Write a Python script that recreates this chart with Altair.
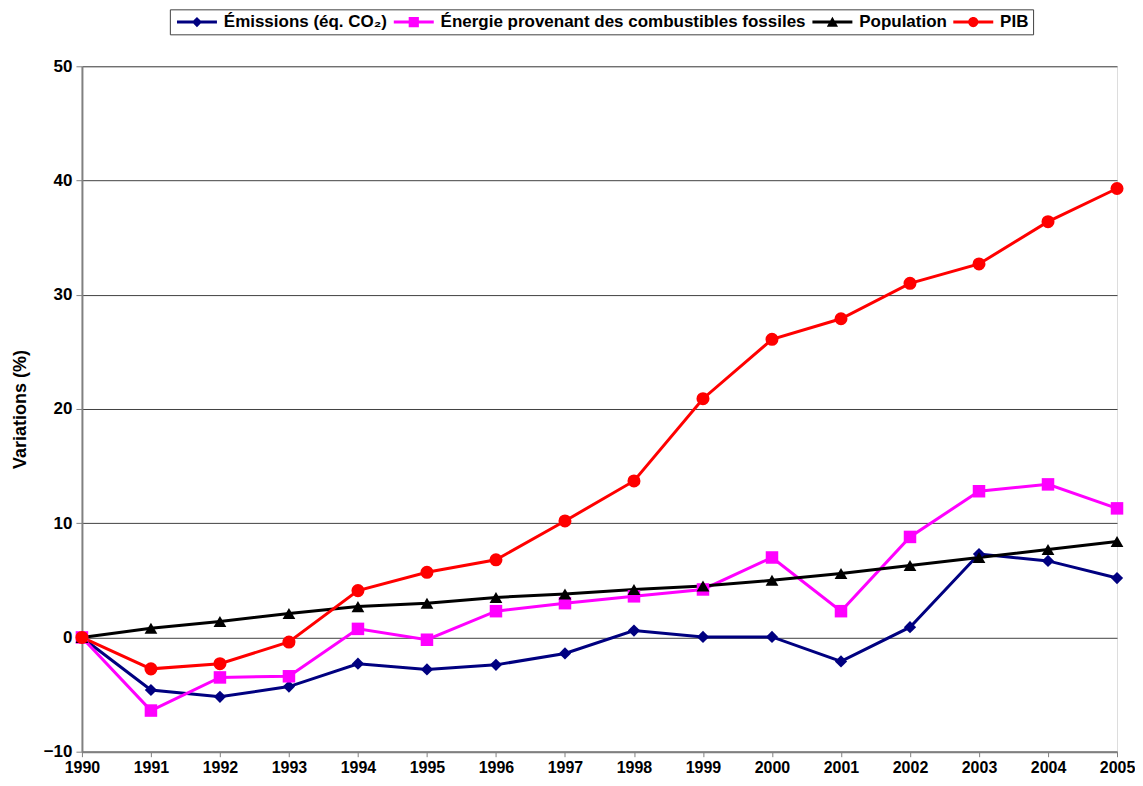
import altair as alt
import pandas as pd

years = list(range(1990, 2006))
series_names = ["Émissions (éq. CO₂)", "Énergie provenant des combustibles fossiles", "Population", "PIB"]
emissions = [0, -4.6, -5.2, -4.3, -2.3, -2.8, -2.4, -1.4, 0.6, 0.05, 0.05, -2.1, 0.9, 7.3, 6.7, 5.2]
energie = [0, -6.4, -3.5, -3.4, 0.75, -0.2, 2.3, 3.0, 3.6, 4.2, 7.0, 2.3, 8.8, 12.8, 13.4, 11.3]
population = [0, 0.8, 1.4, 2.1, 2.7, 3.0, 3.5, 3.8, 4.2, 4.5, 5.0, 5.6, 6.3, 7.0, 7.7, 8.4]
pib = [0, -2.75, -2.3, -0.4, 4.1, 5.7, 6.8, 10.2, 13.7, 20.9, 26.1, 27.9, 31.0, 32.7, 36.4, 39.3]
colors = ["#000080", "#FF00FF", "#000000", "#FF0000"]
shapes = ["diamond", "square", "triangle-up", "circle"]
marker_sizes = [150, 170, 170, 180]

rows = []
for name, vals in zip(series_names, [emissions, energie, population, pib]):
    for yr, v in zip(years, vals):
        rows.append({"Année": yr, "Série": name, "Valeur": v})
df = pd.DataFrame(rows)

# legend symbols: line stub + marker (custom SVG paths, stub starts at the entry's left edge)
stub = "M-1,-0.28H6.46V0.28H-1Z"
cx = 2.73
legend_paths = [
    stub + f"M{cx},-0.95L{cx+0.95},0L{cx},0.95L{cx-0.95},0Z",
    stub + f"M{cx-0.95},-0.95H{cx+0.95}V0.95H{cx-0.95}Z",
    stub + f"M{cx},-1L{cx+1.05},0.85H{cx-1.05}Z",
    stub + f"M{cx+0.95},0A0.95,0.95,0,1,1,{cx-0.95},0A0.95,0.95,0,1,1,{cx+0.95},0Z",
]

FONT = "Liberation Sans"

x = alt.X("Année:Q", scale=alt.Scale(domain=[1990, 2005], nice=False),
          axis=alt.Axis(values=years, format="d", title=None, grid=False,
                        labelFontSize=16, labelFontWeight="bold", labelColor="black",
                        labelFont=FONT, labelPadding=3, domainColor="#808080",
                        domainWidth=2, tickColor="#808080", tickSize=5,
                        labelFlush=False))
y = alt.Y("Valeur:Q", scale=alt.Scale(domain=[-10, 50], nice=False),
          axis=alt.Axis(values=[-10, 0, 10, 20, 30, 40, 50], title="Variations (%)",
                        titleFontSize=18, titleFontWeight="bold", titleFont=FONT,
                        titleColor="black", titlePadding=14,
                        labelFontSize=17, labelFontWeight="bold", labelColor="black",
                        labelFont=FONT, labelPadding=4, grid=True, gridColor="#404040",
                        gridWidth=1, domainColor="#808080", domainWidth=2,
                        tickColor="#808080", tickSize=6))

color_scale = alt.Scale(domain=series_names, range=colors)

lines = alt.Chart(df).mark_line(strokeWidth=3).encode(
    x=x, y=y,
    color=alt.Color("Série:N", scale=color_scale, legend=None),
    order=alt.Order("Année:Q"),
)

points = alt.Chart(df).mark_point(filled=True, opacity=1).encode(
    x=x, y=y,
    color=alt.Color("Série:N", scale=color_scale, legend=None),
    shape=alt.Shape("Série:N", scale=alt.Scale(domain=series_names, range=shapes), legend=None),
    size=alt.Size("Série:N", scale=alt.Scale(domain=series_names, range=marker_sizes), legend=None),
)

leg = dict(title=None, orient="none", direction="horizontal",
           legendX=88, legendY=-57, columns=4,
           labelFontSize=17, labelFontWeight="bold",
           labelFont=FONT, labelColor="black",
           symbolSize=115, symbolStrokeWidth=0,
           labelOffset=33, columnPadding=3,
           strokeColor="#404040", padding=4,
           symbolOpacity=1, labelLimit=600)

legend_layer = alt.Chart(df).transform_filter("datum.Valeur > 1000").mark_point(
    filled=True, opacity=1).encode(
    x=x, y=y,
    color=alt.Color("Série:N", scale=color_scale, legend=alt.Legend(**leg)),
    shape=alt.Shape("Série:N", scale=alt.Scale(domain=series_names, range=legend_paths),
                    legend=alt.Legend(**leg)),
)

chart = alt.layer(lines, points, legend_layer).resolve_scale(
    color="independent", shape="independent"
).properties(width=1036, height=686,
             padding={"left": 3, "top": 0, "right": 0, "bottom": 0}).configure_view(
    stroke="#808080", strokeWidth=1.5
).configure(background="white")

chart.save("out.html", embed_options={"renderer": "svg", "actions": False})
